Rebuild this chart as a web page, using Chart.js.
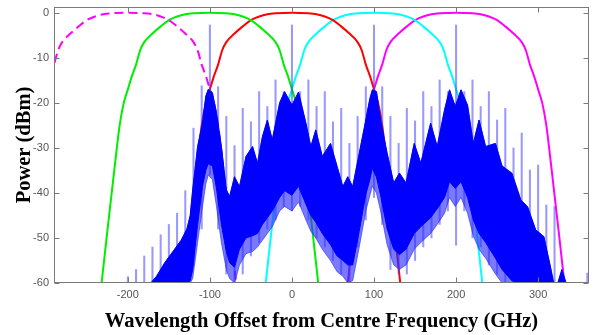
<!DOCTYPE html>
<html>
<head>
<meta charset="utf-8">
<script src="https://cdn.jsdelivr.net/npm/chart.js@4.4.1/dist/chart.umd.min.js"></script>
<style>
  html, body { margin: 0; padding: 0; background: #fff; }
  #wrap { width: 595px; height: 335px; }
</style>
</head>
<body>
<div id="wrap"><canvas id="chartCanvas"></canvas></div>
<script>
// tick labels
const xTicks = [-200, -100, 0, 100, 200, 300];
const yTicks = [-60, -50, -40, -30, -20, -10, 0];

// filter passband shape (offset from centre, GHz -> dB)
const filterOffsets = [-140, -132, -125, -120, -115, -110, -105, -100, -95, -90, -85, -80, -70, -60, -50, -40, -30, -20, 0,
  20, 30, 40, 50, 60, 70, 80, 85, 90, 95, 100, 105, 110, 115, 120, 125, 132, 140];
const filterShape = [-73, -60, -48.5, -40.5, -32.5, -25, -20, -17, -14, -11.5, -8.3, -6.5, -4.6, -3, -1.6, -0.8, -0.3, -0.1, 0,
  -0.1, -0.3, -0.8, -1.6, -3, -4.6, -6.5, -8.3, -11.5, -14, -17, -20, -25, -32.5, -40.5, -48.5, -60, -73];
const filterCentres = [-200, -100, 0, 100, 200];
const filterColours = ["#ff00ff", "#00ee00", "#ff0000", "#00ffff", "#ff00ff"];

// spectrum: dense part (top / bottom) and the lighter fringe under it
const specX = [-172, -165, -155, -145, -135, -128, -124, -121, -115, -109, -105, -102, -97, -92, -86, -80, -76, -70, -64, -56,
  -48, -42, -36, -30, -24, -15, -9, 0, 8, 17, 23, 29, 37, 47, 55, 62, 68, 74, 82, 90, 95, 98, 103, 108, 116, 124,
  131, 139, 149, 157, 169, 177, 186, 192, 199, 206, 214, 221, 228, 236, 248, 256, 268, 279, 287, 297, 307, 315,
  319, 324, 329, 334];
const specTop = [-60, -58.5, -55.5, -53, -50.5, -48, -45, -39.3, -29.7, -24.5, -18.5, -17, -17.7, -22.3, -29.7, -39.3, -40.8, -36.4, -38.6, -31.9,
  -29.7, -33.4, -27.5, -23.8, -28.2, -20, -17.5, -20.5, -17.6, -24.5, -29.7, -26, -31.9, -29, -34.1, -38.6, -36.4, -38.6, -31.2, -23.8,
  -19, -17.1, -17.5, -23.8, -31.2, -37.8, -35.6, -37.8, -29, -33.4, -24.5, -29.7, -21.5, -17.1, -20.8, -17.1, -20.5, -29, -23.8, -29.7,
  -29, -34, -35.6, -41.6, -43, -48.2, -49.7, -56.4, -60, -60, -57, -60];
const specBottom = [-60, -60, -60, -60, -60, -60, -59.5, -57, -47, -38.5, -35, -33.5, -34, -39, -47, -53, -55.5, -56.5, -52.5, -50,
  -49.5, -49, -47, -45.5, -44, -41, -39.5, -40.5, -38.5, -42.5, -45, -46.5, -49, -51.5, -54, -55, -56, -56, -48.5, -40.3,
  -37, -34.5, -36.5, -40.5, -48, -52.5, -53.7, -52.5, -49, -47.5, -45.5, -43.5, -41, -37.5, -39, -37.5, -41, -46, -49, -51,
  -54.5, -57, -59.5, -60, -60, -60, -60, -60, -60, -60, -60, -60];
const fringeBottom = [-60, -60, -60, -60, -60, -60, -60, -59, -51, -43, -38, -36, -37, -43, -51, -57, -59, -60, -56, -53.5,
  -53, -52, -50.5, -49, -47.5, -44, -43, -44, -42, -46, -48.5, -50, -52.5, -55, -57.5, -58.5, -60, -59.5, -52, -44,
  -40.5, -38.5, -40, -44, -51.5, -56, -57, -56, -52.5, -51, -49, -47, -44.5, -41, -43, -41, -44.5, -49.5, -52.5, -54.5,
  -58, -60, -60, -60, -60, -60, -60, -60, -60, -60, -60, -60];

// light-blue spikes every 10 GHz: position, top, bottom
const spikeX = [-200, -190, -180, -170, -160, -150, -140, -130, -120, -110, -100, -90, -80, -70, -60, -50, -40, -30, -20, -10,
  0, 10, 20, 30, 40, 50, 60, 70, 80, 90, 100, 110, 120, 130, 140, 150, 160, 170, 180, 190, 200, 210, 220, 230, 240,
  250, 260, 270, 280, 290, 300, 310, 320, 360];
const spikeTop = [-58.6, -57, -54, -52, -49.3, -47, -44.5, -39.5, -25.6, -16.2, -2.7, -16.4, -23, -29.5, -21.2, -24.2, -17.5, -20.8, -14.9, -17.5,
  -2.7, -17.5, -14.9, -20.8, -17.5, -24.2, -21.2, -29, -23, -16.4, -2.7, -16.4, -23, -29, -21.2, -24, -17.5, -20.8, -14.9, -17.5,
  -2.7, -17.5, -14.9, -20.8, -17.5, -23.8, -21.2, -30, -26.7, -34.9, -33.8, -42.7, -43, -57.8];
const spikeBottom = [-60, -60, -60, -60, -60, -60, -60, -60, -56, -48, -36, -48, -58, -60, -58, -54, -51, -48, -46, -43,
  -44, -43, -46, -50, -52, -55, -58, -60, -52, -46, -41, -47, -57, -58, -58, -55, -52, -50, -47, -44,
  -51.6, -44, -50, -52, -56, -58, -60, -60, -60, -60, -60, -60, -60, -60];

const datasets = [];

function band(top, bottom, colour, order) {
  datasets.push({
    type: "line",
    data: specX.map((x, i) => ({ x, y: top[i] })),
    borderColor: colour,
    backgroundColor: colour,
    borderWidth: 1,
    pointRadius: 0,
    tension: 0,
    fill: "+1",
    order
  });
  datasets.push({
    type: "line",
    data: specX.map((x, i) => ({ x, y: bottom[i] })),
    borderColor: colour,
    borderWidth: 1,
    pointRadius: 0,
    tension: 0,
    fill: false,
    order
  });
}

band(specTop, specBottom, "#0000ff", 0);
band(specTop, fringeBottom, "rgba(40, 40, 255, 0.62)", 1);

datasets.push({
  type: "bar",
  data: spikeX.map((x, i) => ({ x, y: [spikeBottom[i], spikeTop[i]] })),
  backgroundColor: "rgba(70, 70, 255, 0.55)",
  barThickness: 1.4,
  order: 1
});

filterCentres.forEach((c, k) => {
  datasets.push({
    type: "line",
    data: filterOffsets.map((d, i) => ({ x: c + d, y: filterShape[i] })),
    borderColor: filterColours[k],
    borderWidth: 2,
    borderDash: k === 0 ? [9, 5] : [],
    pointRadius: 0,
    cubicInterpolationMode: "monotone",
    fill: false,
    order: 2
  });
});

// box round the plot with inward tick marks
const frame = {
  id: "frame",
  afterDatasetsDraw(chart) {
    const { ctx, chartArea: a, scales: { x, y } } = chart;
    const L = Math.round(a.left) + 0.5, R = Math.round(a.right) - 0.5;
    const T = Math.round(a.top) + 0.5, B = Math.round(a.bottom) - 0.5;
    ctx.save();
    ctx.strokeStyle = "#7a7a7a";
    ctx.lineWidth = 1;
    ctx.strokeRect(L, T, R - L, B - T);
    ctx.beginPath();
    x.ticks.forEach(t => {
      const px = Math.round(x.getPixelForValue(t.value)) + 0.5;
      ctx.moveTo(px, B); ctx.lineTo(px, B - 5);
      ctx.moveTo(px, T); ctx.lineTo(px, T + 5);
    });
    y.ticks.forEach(t => {
      const py = Math.round(y.getPixelForValue(t.value)) + 0.5;
      ctx.moveTo(L, py); ctx.lineTo(L + 5, py);
      ctx.moveTo(R, py); ctx.lineTo(R - 5, py);
    });
    ctx.stroke();
    ctx.restore();
  }
};

new Chart(document.getElementById("chartCanvas"), {
  type: "line",
  data: { datasets },
  options: {
    responsive: true,
    maintainAspectRatio: false,
    animation: false,
    layout: { padding: { top: 7, right: 6, left: 0, bottom: 0 } },
    plugins: { legend: { display: false }, tooltip: { enabled: false } },
    scales: {
      x: {
        type: "linear",
        min: -290,
        max: 362,
        offset: false,
        grid: { display: false, drawTicks: false },
        border: { display: false },
        afterBuildTicks: s => { s.ticks = xTicks.map(v => ({ value: v })); },
        afterFit: s => { s.height = 52; s.paddingLeft = 0; s.paddingRight = 0; },
        ticks: {
          color: "#555",
          padding: 5,
          maxRotation: 0,
          font: { family: "Liberation Sans", size: 11 }
        },
        title: {
          display: true,
          text: "Wavelength Offset from Centre Frequency (GHz)",
          color: "#000",
          padding: { bottom: 1 },
          font: { family: "Liberation Serif", size: 20.5, weight: "bold" }
        }
      },
      y: {
        type: "linear",
        min: -60,
        max: 1.3,
        grid: { display: false, drawTicks: false },
        border: { display: false },
        afterBuildTicks: s => { s.ticks = yTicks.map(v => ({ value: v })); },
        afterFit: s => { s.width = 54; s.paddingTop = 0; s.paddingBottom = 0; },
        ticks: {
          color: "#555",
          padding: 5,
          font: { family: "Liberation Sans", size: 11 }
        },
        title: {
          display: true,
          text: "Power (dBm)",
          color: "#000",
          padding: { top: 12 },
          font: { family: "Liberation Serif", size: 20.5, weight: "bold" }
        }
      }
    }
  },
  plugins: [frame]
});
</script>
</body>
</html>
